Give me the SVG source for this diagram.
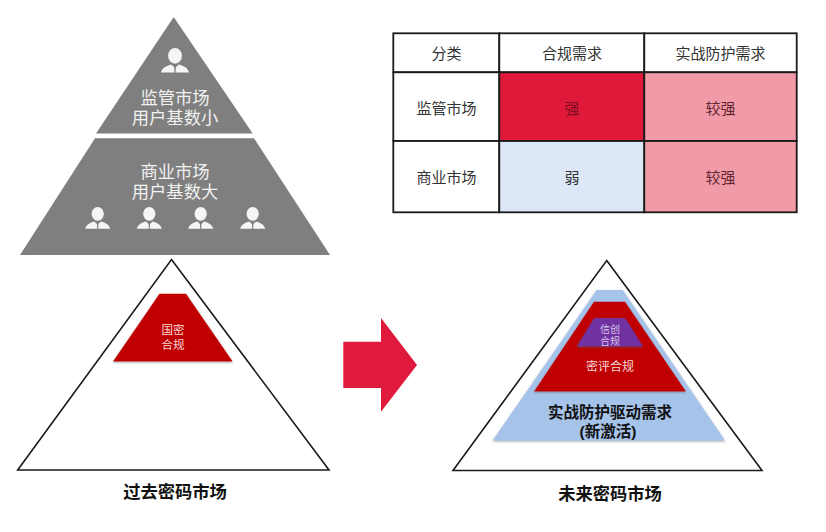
<svg xmlns="http://www.w3.org/2000/svg" width="826" height="532" viewBox="0 0 826 532">
<style>
text{font-family:"Liberation Sans","Noto Sans CJK SC",sans-serif;text-anchor:middle;dominant-baseline:central}
.gray{fill:#7f7f7f}
.wt{fill:#f2f2f2;font-size:17.3px}
.outline{fill:#fff;stroke:#1a1a1a;stroke-width:1.6;stroke-linejoin:miter}
.red{fill:#c00000}
.title{fill:#111;font-size:17.3px;font-weight:700}
.cell{stroke:#1a1a1a;stroke-width:1.8}
.ct{fill:#333;font-size:15px}
.sh{filter:url(#s)}
</style>
<defs>
<filter id="s" x="-10%" y="-10%" width="120%" height="120%"><feDropShadow dx="0" dy="1" stdDeviation="0.9" flood-color="#555" flood-opacity="0.55"/></filter>
<g id="person" fill="#f5f5f5">
<ellipse cx="0" cy="-8" rx="6.4" ry="7.2"/>
<path d="M-13 7.5C-12 3-8 1.5-3.5 0L-0.8 2.5-0.5 7.5H0.5L0.8 2.5 3.5 0C8 1.5 12 3 13 7.5Z"/>
</g>
</defs>
<rect width="826" height="532" fill="#fff"/>

<g id="top-pyramid-regulated">
<polygon class="gray" points="173.7,17 252.7,133.5 96,133.5"/>
<use href="#person" transform="translate(175,64.5) scale(1.08)"/>
<text class="wt" x="175" y="97.5">监管市场<tspan x="175" dy="20.5">用户基数小</tspan></text>
</g>
<g id="top-pyramid-commercial">
<polygon class="gray" points="95,138.3 254,138.3 330,255 20,255"/>
<text class="wt" x="175" y="171.5">商业市场<tspan x="175" dy="20.5">用户基数大</tspan></text>
<use href="#person" transform="translate(97.7,221.5) scale(.96)"/>
<use href="#person" transform="translate(149.3,221.5) scale(.96)"/>
<use href="#person" transform="translate(200.7,221.5) scale(.96)"/>
<use href="#person" transform="translate(252.7,221.5) scale(.96)"/>
</g>

<g id="requirements-table">
<rect class="cell" x="393.3" y="33.3" width="106" height="39" fill="#fff"/>
<rect class="cell" x="499.3" y="33.3" width="145" height="39" fill="#fff"/>
<rect class="cell" x="644.3" y="33.3" width="152.4" height="39" fill="#fff"/>
<rect class="cell" x="393.3" y="72.3" width="106" height="68.7" fill="#fff"/>
<rect class="cell" x="499.3" y="72.3" width="145" height="68.7" fill="#e0193a"/>
<rect class="cell" x="644.3" y="72.3" width="152.4" height="68.7" fill="#f29ba8"/>
<rect class="cell" x="393.3" y="141" width="106" height="71.3" fill="#fff"/>
<rect class="cell" x="499.3" y="141" width="145" height="71.3" fill="#dce8f7"/>
<rect class="cell" x="644.3" y="141" width="152.4" height="71.3" fill="#f29ba8"/>
<text class="ct" x="446.5" y="53.3">分类</text>
<text class="ct" x="572" y="53.3">合规需求</text>
<text class="ct" x="720.5" y="53.3">实战防护需求</text>
<text class="ct" x="446.5" y="108.3">监管市场</text>
<text class="ct" x="572" y="108.3" style="fill:#7d0f22">强</text>
<text class="ct" x="720.5" y="108.3" style="fill:#5e2530">较强</text>
<text class="ct" x="446.5" y="177.8">商业市场</text>
<text class="ct" x="572" y="177.8">弱</text>
<text class="ct" x="720.5" y="177.8" style="fill:#5e2530">较强</text>
</g>

<g id="past-market">
<polygon class="outline" points="171.5,259.5 329,470 17.7,470"/>
<polygon class="red sh" points="159.5,293.7 186,293.7 232.7,361.5 113,361.5"/>
<text x="173" y="330" fill="#f8d8d8" font-size="11.5">国密<tspan x="173" dy="15">合规</tspan></text>
<text class="title" x="175" y="491.5">过去密码市场</text>
</g>

<g id="connectors">
<polygon fill="#e01a3c" points="343.3,341.7 381,341.7 381,318 417,365 381,411.7 381,388 343.3,388"/>
</g>

<g id="future-market">
<polygon class="outline" points="606.7,260.5 762,470.5 453,470.5"/>
<polygon class="sh" fill="#a6c3ea" points="596.7,290 622.7,290 725,440.5 492.7,440.5"/>
<polygon class="red sh" points="594,301.7 625,301.7 686,391.5 534,391.5"/>
<polygon class="sh" fill="#7030a0" points="594.3,318 625,318 643,346.5 576.7,346.5"/>
<text x="610" y="329" fill="#d9c5ea" font-size="10">信创<tspan x="610" dy="11.7">合规</tspan></text>
<text x="610" y="366.5" fill="#f8d8d8" font-size="12">密评合规</text>
<text x="610" y="412.3" fill="#111" font-size="15.5" font-weight="700">实战防护驱动需求<tspan x="608" dy="18.5">(新激活)</tspan></text>
<text class="title" x="610" y="494">未来密码市场</text>
</g>
</svg>
